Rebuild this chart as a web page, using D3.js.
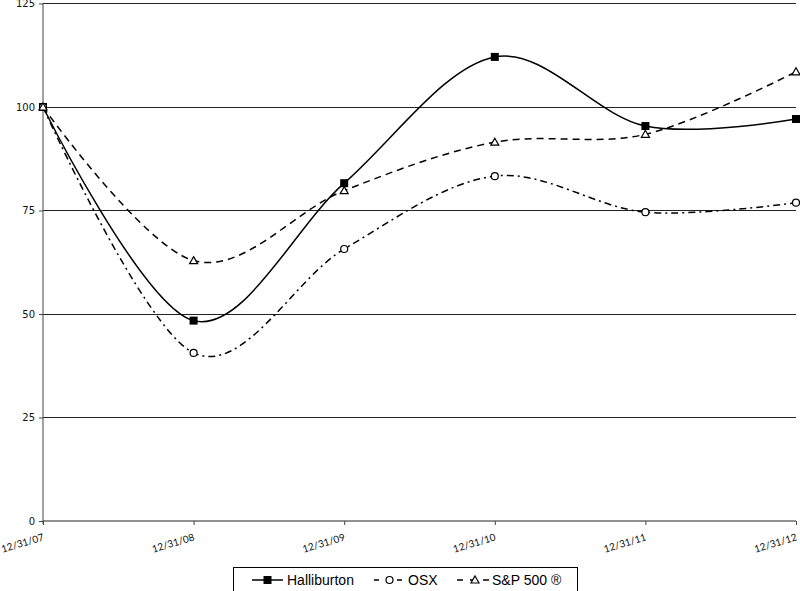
<!DOCTYPE html>
<html><head><meta charset="utf-8">
<script src="https://cdn.jsdelivr.net/npm/d3@7"></script>
<style>body{margin:0;background:#fff;}svg{display:block;}</style>
</head><body>
<script>
const categories = ["12/31/07","12/31/08","12/31/09","12/31/10","12/31/11","12/31/12"];
const halliburton = [100, 48.4, 81.6, 112.1, 95.4, 97.1];
const osx = [100, 40.6, 65.7, 83.3, 74.6, 76.9];
const sp500 = [100, 62.9, 79.8, 91.5, 93.4, 108.5];
const yTicks = [0, 25, 50, 75, 100, 125];
const seriesNames = ["Halliburton", "OSX", "S&P 500 ®"];

const W = 800, H = 591;
const svg = d3.select("body").append("svg").attr("width", W).attr("height", H);
const x = d3.scalePoint().domain(categories).range([43, 796]);
const y = d3.scaleLinear().domain([0, 125]).range([521, 3.5]);

// gridlines
svg.append("g").selectAll("line").data(yTicks.filter(d => d > 0)).join("line")
  .attr("x1", 43).attr("x2", 796).attr("y1", d => y(d)).attr("y2", d => y(d))
  .attr("stroke", "#222").attr("stroke-width", 1).attr("shape-rendering", "crispEdges");

// y axis
const yAxis = svg.append("g").attr("transform", "translate(43,0)")
  .call(d3.axisLeft(y).tickValues(yTicks).tickSize(4).tickPadding(4));
yAxis.select(".domain").attr("stroke", "#444").attr("d", `M-0,${y(0)+3}V${y(125)}`);
yAxis.selectAll(".tick line").attr("stroke", "#444");
yAxis.selectAll("text").attr("font-family", "DejaVu Sans").attr("font-size", 10).attr("fill", "#111");

// x axis
const xAxis = svg.append("g").attr("transform", `translate(0,${y(0)})`)
  .call(d3.axisBottom(x).tickSize(4).tickSizeOuter(0));
xAxis.select(".domain").attr("stroke", "#222").attr("d", `M43,0H796`);
xAxis.selectAll(".tick line").attr("stroke", "#444");
xAxis.selectAll("text")
  .attr("font-family", "Lato, 'Open Sans', sans-serif").attr("font-size", 10).attr("fill", "#111")
  .attr("text-anchor", "end").attr("dy", null).attr("y", 0)
  .attr("transform", "translate(1,19) rotate(-17)");

const line = d3.line().x((d, i) => x(categories[i])).y(d => y(d)).curve(d3.curveCardinal.tension(0));

const series = [
  {name: seriesNames[0], values: halliburton, dash: null, marker: "square"},
  {name: seriesNames[1], values: osx, dash: "7,4,2,4", marker: "circle"},
  {name: seriesNames[2], values: sp500, dash: "7,5", marker: "triangle"}
];

function drawMarker(g, type, cx, cy) {
  if (type === "square") {
    g.append("rect").attr("x", cx - 4).attr("y", cy - 4).attr("width", 8).attr("height", 8).attr("fill", "#000");
  } else if (type === "circle") {
    g.append("circle").attr("cx", cx).attr("cy", cy).attr("r", 3.5).attr("fill", "#fff").attr("stroke", "#000").attr("stroke-width", 1.2);
  } else {
    g.append("path").attr("d", `M${cx},${cy-4}L${cx+4},${cy+3}L${cx-4},${cy+3}Z`).attr("fill", "#fff").attr("stroke", "#000").attr("stroke-width", 1.2);
  }
}

series.forEach(s => {
  svg.append("path").datum(s.values).attr("d", line).attr("fill", "none")
    .attr("stroke", "#000").attr("stroke-width", 1.5).attr("stroke-dasharray", s.dash);
});
series.forEach(s => {
  const g = svg.append("g");
  s.values.forEach((v, i) => drawMarker(g, s.marker, x(categories[i]), y(v)));
});

// legend
const lg = svg.append("g");
lg.append("rect").attr("x", 233.5).attr("y", 567.5).attr("width", 344).attr("height", 24)
  .attr("fill", "#fff").attr("stroke", "#000").attr("stroke-width", 1);
const legendPos = [{x0: 252, x1: 283, tx: 287}, {x0: 374, x1: 405, tx: 408}, {x0: 457, x1: 489, tx: 492}];
const legendDash = [null, "5,8,2,8", "6,7"];
series.forEach((s, i) => {
  const p = legendPos[i], ly = 580;
  lg.append("line").attr("x1", p.x0).attr("x2", p.x1).attr("y1", ly).attr("y2", ly)
    .attr("stroke", "#000").attr("stroke-width", 1.5).attr("stroke-dasharray", legendDash[i]);
  drawMarker(lg, s.marker, (p.x0 + p.x1) / 2 + (i === 2 ? 2 : 0), ly);
  lg.append("text").attr("x", p.tx).attr("y", ly + 5).attr("font-family", "Liberation Sans, Arial, sans-serif")
    .attr("font-size", 14).attr("fill", "#000").text(s.name);
});
</script>
</body></html>
